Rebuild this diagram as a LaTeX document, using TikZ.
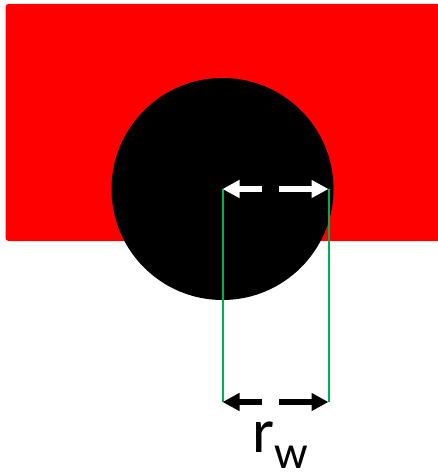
\documentclass[tikz,border=0pt]{standalone}
\usepackage{fontspec}
\setmainfont{Carlito}
\usetikzlibrary{arrows.meta}
\definecolor{guidegreen}{RGB}{0,176,80}
\begin{document}
\begin{tikzpicture}[x=1pt,y=-1pt,
  dimarrow/.style={line width=5.5pt, dash pattern=on 24pt off 17pt on 40pt,
    {Triangle[length=17pt,width=17pt]}-{Triangle[length=17pt,width=17pt]}},
  guide/.style={draw=guidegreen, line width=2pt}]
\useasboundingbox (0,0) rectangle (437,473);
\fill[red, rounded corners=3pt] (5.5,4) rectangle (440,241);
\coordinate (c) at (222.5,189);
\fill[black] (c) circle[radius=111pt];
\coordinate (e) at (328.5,189);
\coordinate (bl) at (222.5,402);
\coordinate (br) at (328.5,402);
\draw[guide] (c) -- (bl);
\draw[guide] (e) -- (br);
\draw[dimarrow, white] (c) -- (e);
\draw[dimarrow, black] (bl) -- (br);
\node[anchor=base west, inner sep=0pt] (lbl) at (252,452)
  {\fontsize{63}{64}\selectfont r\raisebox{-16pt}{\fontsize{47}{48}\selectfont w}};
\end{tikzpicture}
\end{document}
